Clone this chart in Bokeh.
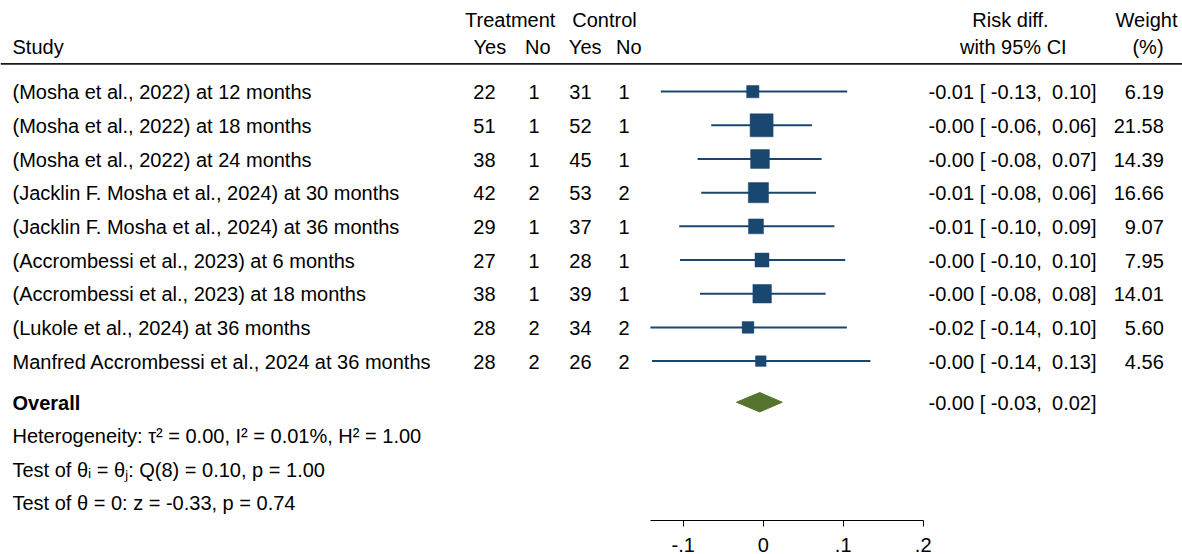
import numpy as np
from bokeh.plotting import figure
from bokeh.models import Range1d, FixedTicker, Span, ColumnDataSource
from bokeh.core.properties import value
from bokeh.embed import file_html
from bokeh.resources import INLINE

# ---------------- data ----------------
studies = [
    "(Mosha et al., 2022) at 12 months",
    "(Mosha et al., 2022) at 18 months",
    "(Mosha et al., 2022) at 24 months",
    "(Jacklin F. Mosha et al., 2024) at 30 months",
    "(Jacklin F. Mosha et al., 2024) at 36 months",
    "(Accrombessi et al., 2023) at 6 months",
    "(Accrombessi et al., 2023) at 18 months",
    "(Lukole et al., 2024) at 36 months",
    "Manfred Accrombessi et al., 2024 at 36 months",
]
treat_yes = [22, 51, 38, 42, 29, 27, 38, 28, 28]
treat_no = [1, 1, 1, 2, 1, 1, 1, 2, 2]
ctrl_yes = [31, 52, 45, 53, 37, 28, 39, 34, 26]
ctrl_no = [1, 1, 1, 2, 1, 1, 1, 2, 2]
risk_diff = [-0.013, -0.002, -0.004, -0.006, -0.009, -0.0015, -0.0013, -0.019, -0.003]
ci_low = [-0.128, -0.065, -0.082, -0.0775, -0.105, -0.104, -0.079, -0.141, -0.139]
ci_high = [0.105, 0.061, 0.073, 0.066, 0.089, 0.1025, 0.078, 0.1046, 0.134]
weights = [6.19, 21.58, 14.39, 16.66, 9.07, 7.95, 14.01, 5.60, 4.56]
est_txt = ["-0.01", "-0.00", "-0.00", "-0.01", "-0.01", "-0.00", "-0.00", "-0.02", "-0.00"]
low_txt = ["-0.13", "-0.06", "-0.08", "-0.08", "-0.10", "-0.10", "-0.08", "-0.14", "-0.14"]
high_txt = ["0.10", "0.06", "0.07", "0.06", "0.09", "0.10", "0.08", "0.10", "0.13"]

overall_est = -0.0043
overall_low = -0.0334
overall_high = 0.0238
overall_txt = ("-0.00", "-0.03", "0.02")

stats_lines = [
    "Heterogeneity: \u03c4\u00b2 = 0.00, I\u00b2 = 0.01%, H\u00b2 = 1.00",
    "Test of \u03b8\u1d62 = \u03b8\u2c7c: Q(8) = 0.10, p = 1.00",
    "Test of \u03b8 = 0: z = -0.33, p = 0.74",
]
tick_values = [-0.1, 0.0, 0.1, 0.2]
tick_labels = ["-.1", "0", ".1", ".2"]

# ---------------- layout constants ----------------
FIG_W, FIG_H = 1182, 554
PX0, PXU = 762.7, 800.0        # px of x=0, px per unit
ROW0, ROWH = 91.3, 33.75       # px of row 1 centre, row height
FRAME_BOTTOM = 521.0
TXT_DY = -7.5                  # correction of the rendered text baseline
FONT = value("Liberation Sans")
FS = "20px"
NAVY = "#1a476f"
OLIVE = "#55752f"


def xd(fx):
    return (fx - PX0) / PXU


def yd(fy):
    return 1 + (fy - ROW0) / ROWH


def yt(fy):
    return yd(fy + TXT_DY)


p = figure(width=FIG_W, height=FIG_H,
           x_range=Range1d(xd(0), xd(FIG_W)),
           y_range=Range1d(yd(FRAME_BOTTOM), yd(0)),
           output_backend="svg", toolbar_location=None,
           y_axis_location=None, min_border=0,
           min_border_left=0, min_border_right=0, min_border_top=0, min_border_bottom=0)
p.outline_line_color = None
p.xgrid.visible = False
p.ygrid.visible = False
p.background_fill_color = "white"
p.border_fill_color = "white"

# ---------------- axis ----------------
ax = p.xaxis[0]
ax.ticker = FixedTicker(ticks=tick_values)
ax.major_label_overrides = {t: l for t, l in zip(tick_values, tick_labels)}
ax.bounds = (min(ci_low), max(tick_values))
ax.minor_tick_line_color = None
ax.major_tick_in = 0
ax.major_tick_out = 6
ax.major_label_standoff = 11
ax.major_label_text_font = "Liberation Sans"
ax.major_label_text_font_size = FS
ax.major_label_text_color = "black"
ax.axis_line_color = "black"
ax.major_tick_line_color = "black"

# ---------------- header rule ----------------
p.add_layout(Span(location=yd(63.5), dimension="width", line_color="#1a1a1a", line_width=1.8))

rows = list(range(1, len(studies) + 1))

# ---------------- CI lines and squares ----------------
src = ColumnDataSource(dict(
    y=rows, est=risk_diff, lo=ci_low, hi=ci_high,
    size=[4.95 * np.sqrt(w) for w in weights],
))
p.segment(x0="lo", x1="hi", y0="y", y1="y", source=src, line_color=NAVY, line_width=2)
p.scatter(x="est", y="y", size="size", marker="square", source=src,
          fill_color=NAVY, line_color=NAVY, line_width=0.5)

# ---------------- overall diamond ----------------
yo = yd(402.5)
hh = 9.7 / ROWH
p.patch(x=[overall_low, overall_est, overall_high, overall_est],
        y=[yo, yo - hh, yo, yo + hh], fill_color=OLIVE, line_color=OLIVE)


# ---------------- text helpers ----------------
def txt(xs, ys, texts, align="left", bold=False):
    s = ColumnDataSource(dict(x=xs, y=ys, t=texts))
    p.text(x="x", y="y", text="t", source=s, text_font=FONT, text_font_size=FS,
           text_color="black", text_align=align, text_baseline="alphabetic",
           text_font_style="bold" if bold else "normal")


base = [yt(ROW0 + (r - 1) * ROWH + 8.2) for r in rows]

# headers
txt([xd(509.7), xd(604), xd(1010), xd(1146)], [yt(27.3)] * 4,
    ["Treatment", "Control", "Risk diff.", "Weight"], align="center")
txt([xd(12)], [yt(54.3)], ["Study"])
txt([xd(505.7), xd(550), xd(601), xd(641)], [yt(54.3)] * 4,
    ["Yes", "No", "Yes", "No"], align="right")
txt([xd(1012.8), xd(1147.5)], [yt(54.3)] * 2, ["with 95% CI", "(%)"], align="center")

# study rows
txt([xd(12)] * len(rows), base, studies)
txt([xd(495)] * len(rows), base, [str(v) for v in treat_yes], align="right")
txt([xd(539)] * len(rows), base, [str(v) for v in treat_no], align="right")
txt([xd(591)] * len(rows), base, [str(v) for v in ctrl_yes], align="right")
txt([xd(629)] * len(rows), base, [str(v) for v in ctrl_no], align="right")
txt([xd(928)] * len(rows), base, [f"{e} [ {l}," for e, l in zip(est_txt, low_txt)])
txt([xd(1096)] * len(rows), base, [f"{h}]" for h in high_txt], align="right")
txt([xd(1163.3)] * len(rows), base, [f"{w:.2f}" for w in weights], align="right")

# overall row
txt([xd(12)], [yt(411)], ["Overall"], bold=True)
txt([xd(928)], [yt(411)], [f"{overall_txt[0]} [ {overall_txt[1]},"])
txt([xd(1096)], [yt(411)], [f"{overall_txt[2]}]"], align="right")

# statistics
txt([xd(12)] * 3, [yt(444), yt(477.5), yt(511)], stats_lines)

open("out.html", "w").write(file_html(p, INLINE))
